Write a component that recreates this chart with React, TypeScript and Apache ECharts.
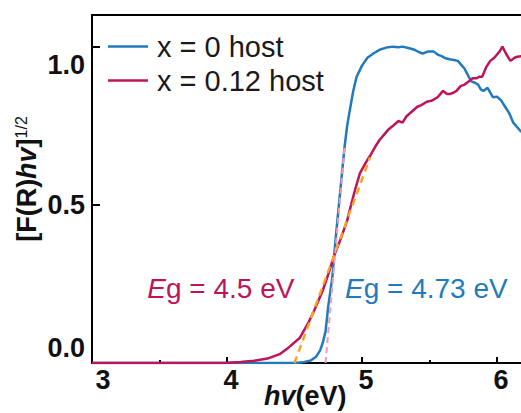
import React, { useEffect, useRef } from "react";
import * as echarts from "echarts";

// x = 0 host (blue)
const hostX0_E = [3.0, 4.5, 4.56, 4.62, 4.66, 4.69, 4.71, 4.73, 4.75, 4.78, 4.8, 4.82, 4.845, 4.87, 4.89, 4.91, 4.935, 4.96, 5.0, 5.04, 5.09, 5.13, 5.18, 5.23, 5.27, 5.3, 5.35, 5.39, 5.42, 5.45, 5.49, 5.53, 5.56, 5.59, 5.62, 5.65, 5.68, 5.71, 5.74, 5.76, 5.79, 5.81, 5.84, 5.86, 5.88, 5.9, 5.93, 5.95, 5.97, 6.0, 6.03, 6.06, 6.09, 6.12, 6.15, 6.18];
const hostX0_Y = [0, 0, 0.002, 0.008, 0.02, 0.04, 0.065, 0.1, 0.18, 0.27, 0.37, 0.46, 0.57, 0.68, 0.75, 0.8, 0.86, 0.905, 0.94, 0.965, 0.98, 0.99, 0.997, 1.0, 0.998, 1.0, 0.995, 0.99, 0.983, 0.978, 0.985, 0.985, 0.975, 0.97, 0.963, 0.96, 0.958, 0.955, 0.94, 0.93, 0.905, 0.89, 0.885, 0.88, 0.865, 0.86, 0.87, 0.855, 0.84, 0.842, 0.83, 0.81, 0.79, 0.76, 0.745, 0.73];

// x = 0.12 host (crimson)
const hostX012_E = [3.0, 3.9, 4.0, 4.1, 4.2, 4.3, 4.39, 4.46, 4.54, 4.6, 4.64, 4.68, 4.71, 4.75, 4.79, 4.84, 4.89, 4.91, 4.95, 4.985, 5.03, 5.06, 5.1, 5.13, 5.17, 5.2, 5.23, 5.27, 5.3, 5.33, 5.37, 5.41, 5.44, 5.48, 5.52, 5.56, 5.58, 5.6, 5.63, 5.65, 5.68, 5.7, 5.73, 5.76, 5.79, 5.82, 5.85, 5.87, 5.89, 5.92, 5.95, 5.98, 6.0, 6.02, 6.04, 6.07, 6.1, 6.13, 6.15, 6.18];
const hostX012_Y = [0, 0, 0.001, 0.003, 0.007, 0.014, 0.028, 0.05, 0.08, 0.125, 0.16, 0.2, 0.23, 0.28, 0.335, 0.39, 0.45, 0.485, 0.55, 0.6, 0.635, 0.655, 0.685, 0.705, 0.725, 0.74, 0.75, 0.765, 0.76, 0.78, 0.795, 0.81, 0.815, 0.826, 0.83, 0.84, 0.85, 0.86, 0.85, 0.85, 0.855, 0.86, 0.875, 0.88, 0.89, 0.9, 0.9, 0.905, 0.905, 0.935, 0.955, 0.965, 0.975, 0.985, 1.0, 0.975, 0.955, 0.965, 0.968, 0.97];

// Tauc fit lines [E, y]
const fitX012_E = [4.5, 5.06];
const fitX012_Y = [0, 0.65];
const fitX0_E = [4.73, 4.87];
const fitX0_Y = [0, 0.68];

const seriesNames = ["x = 0 host", "x = 0.12 host"];
const gapLabels = ["4.5", "4.73"];
const yTickLabels = ["0.0", "0.5", "1.0"];

const BLUE = "#1f7bbd";
const CRIMSON = "#be1459";
const ORANGE = "#f5a623";
const PINK = "#f29bb4";
const FONT = "'Liberation Sans', Arial, Helvetica, sans-serif";

const zip = (a: number[], b: number[]) => a.map((v, i) => [v, b[i]]);

export default function App() {
  const ref = useRef<HTMLDivElement>(null);
  useEffect(() => {
    if (!ref.current) return;
    const chart = echarts.init(ref.current, null, { renderer: "svg" });
    const axisLine = { show: true, lineStyle: { color: "#000", width: 2 } };
    const tickFont = { fontSize: 27, lineHeight: 27, fontWeight: "bold", color: "#111", fontFamily: FONT };
    chart.setOption({
      animation: false,
      textStyle: { fontFamily: FONT },
      grid: { left: 92, top: 15, bottom: 50, right: 10.5, outerBoundsMode: "none", containLabel: false },
      legend: {
        data: seriesNames,
        orient: "vertical",
        left: 103,
        top: 27,
        icon: "rect",
        itemWidth: 40,
        itemHeight: 2.5,
        itemGap: 5,
        textStyle: { fontSize: 29, lineHeight: 29, color: "#1a1a1a", fontFamily: FONT, padding: [0, 0, 0, 4] },
      },
      xAxis: [
        {
          type: "value",
          min: 3,
          max: 6.5,
          interval: 1,
          axisLine,
          axisTick: { show: true, inside: true, length: 6, lineStyle: { color: "#000", width: 2 } },
          minorTick: { show: true, splitNumber: 2, length: 3, lineStyle: { color: "#000", width: 2 } },
          splitLine: { show: false },
          axisLabel: {
            ...tickFont,
            margin: 3,
            showMaxLabel: false,
            formatter: (v: number) => (Math.abs(v - 3) < 1e-6 ? "{f|" + v + "}" : "{n|" + v + "}"),
            rich: {
              n: { ...tickFont, padding: [0, 0, 0, 8] },
              f: { ...tickFont, padding: [0, 0, 0, 22] },
            },
          },
          name: "{bi|hv}{b|(eV)}",
          nameLocation: "middle",
          nameGap: 19,
          nameMoveOverlap: false,
          nameTextStyle: {
            padding: [0, 46, 0, 0],
            rich: {
              bi: { fontSize: 27, fontWeight: "bold", fontStyle: "italic", color: "#111", fontFamily: FONT },
              b: { fontSize: 27, fontWeight: "bold", color: "#111", fontFamily: FONT },
            },
          },
        },
        {
          type: "value",
          position: "top",
          min: 3,
          max: 6.5,
          axisLine,
          axisTick: { show: false },
          axisLabel: { show: false },
          splitLine: { show: false },
        },
      ],
      yAxis: {
        type: "value",
        min: 0,
        max: 1.1,
        interval: 0.5,
        axisLine,
        axisTick: { show: true, inside: true, length: 8, lineStyle: { color: "#000", width: 2 } },
        splitLine: { show: false },
        axisLabel: {
          ...tickFont,
          margin: 7,
          showMaxLabel: false,
          formatter: (v: number) => {
            const s = yTickLabels[Math.round(v * 2)] ?? v.toFixed(1);
            if (Math.abs(v - 1) < 1e-6) return "{lo|" + s + "}";
            if (Math.abs(v) < 1e-6) return "{hi|" + s + "}";
            return "{n|" + s + "}";
          },
          rich: {
            n: { ...tickFont },
            lo: { ...tickFont, padding: [36, 0, 0, 0] },
            hi: { ...tickFont, padding: [0, 0, 30, 0] },
          },
        },
        name: "{b|[F(R)}{bi|hv}{b|]}{sup|1/2}",
        nameLocation: "middle",
        nameGap: 52,
        nameMoveOverlap: false,
        nameRotate: 90,
        nameTextStyle: {
          padding: [0, 0, 0, 20],
          rich: {
            b: { fontSize: 27, fontWeight: "bold", color: "#111", fontFamily: FONT },
            bi: { fontSize: 27, fontWeight: "bold", fontStyle: "italic", color: "#111", fontFamily: FONT },
            sup: { fontSize: 16, color: "#111", fontFamily: FONT, verticalAlign: "top" },
          },
        },
      },
      series: [
        {
          name: seriesNames[0],
          type: "line",
          data: zip(hostX0_E, hostX0_Y),
          symbol: "none",
          lineStyle: { color: BLUE, width: 2.5 },
          itemStyle: { color: BLUE },
          z: 3,
          markPoint: {
            symbol: "circle",
            symbolSize: 0,
            data: [{ coord: [4.874, 0.237] }],
            label: {
              show: true,
              position: "right",
              distance: 0,
              formatter: "{e|E}{n|g = " + gapLabels[1] + " eV}",
              rich: {
                e: { fontSize: 28, fontStyle: "italic", color: BLUE, fontFamily: FONT },
                n: { fontSize: 28, color: BLUE, fontFamily: FONT },
              },
            },
          },
        },
        {
          name: seriesNames[1],
          type: "line",
          data: zip(hostX012_E, hostX012_Y),
          symbol: "none",
          lineStyle: { color: CRIMSON, width: 2.5 },
          itemStyle: { color: CRIMSON },
          z: 4,
          markPoint: {
            symbol: "circle",
            symbolSize: 0,
            data: [{ coord: [3.41, 0.237] }],
            label: {
              show: true,
              position: "right",
              distance: 0,
              formatter: "{e|E}{n|g = " + gapLabels[0] + " eV}",
              rich: {
                e: { fontSize: 28, fontStyle: "italic", color: CRIMSON, fontFamily: FONT },
                n: { fontSize: 28, color: CRIMSON, fontFamily: FONT },
              },
            },
          },
        },
        {
          name: "fit012",
          type: "line",
          data: zip(fitX012_E, fitX012_Y),
          symbol: "none",
          lineStyle: { color: ORANGE, width: 2.5, type: [7, 5] },
          z: 5,
        },
        {
          name: "fit0",
          type: "line",
          data: zip(fitX0_E, fitX0_Y),
          symbol: "none",
          lineStyle: { color: PINK, width: 2, type: [6, 4] },
          z: 5,
        },
      ],
    });
    return () => chart.dispose();
  }, []);
  return (
    <div style={{ position: "absolute", left: 0, top: 0, width: 521, height: 413, overflow: "hidden", background: "#fff" }}>
      <div ref={ref} style={{ width: 575, height: 413 }} />
    </div>
  );
}
